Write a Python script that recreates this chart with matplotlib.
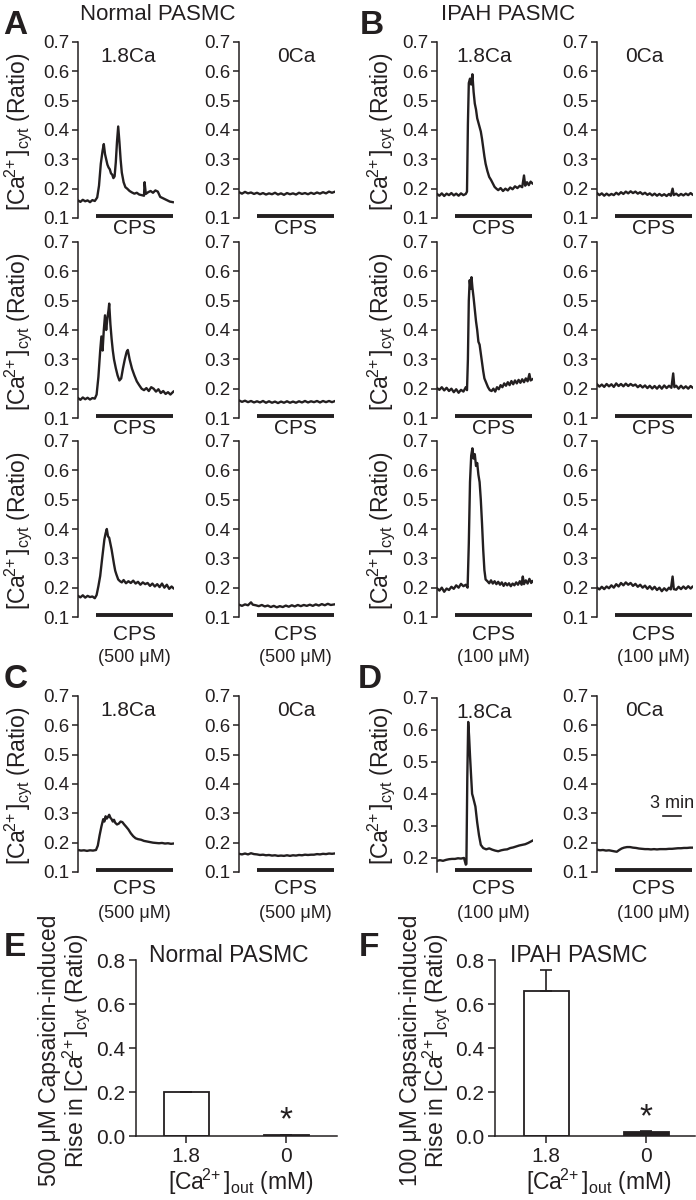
import numpy as np
import matplotlib
matplotlib.use('Agg')
from matplotlib import pyplot as plt
from matplotlib.ticker import FormatStrFormatter

plt.rcParams['font.family'] = ['Liberation Sans', 'DejaVu Sans']
plt.rcParams['mathtext.fontset'] = 'custom'
plt.rcParams['mathtext.rm'] = 'Liberation Sans'
plt.rcParams['mathtext.it'] = 'Liberation Sans:italic'
plt.rcParams['mathtext.bf'] = 'Liberation Sans:bold'

INK = '#231f20'

# ---- traces, (time in min, fura-2 ratio) ----
a1_18 = [(0, 0.160), (0.4, 0.155), (0.8, 0.162), (1.2, 0.157), (1.6, 0.160), (2.0, 0.154), (2.4, 0.161),
         (2.8, 0.158), (3.2, 0.170), (3.5, 0.210), (3.8, 0.285), (4.1, 0.330), (4.3, 0.352), (4.5, 0.318),
         (4.7, 0.300), (4.9, 0.282), (5.1, 0.272), (5.3, 0.266), (5.5, 0.252), (5.7, 0.248), (5.9, 0.236),
         (6.1, 0.242), (6.3, 0.290), (6.5, 0.360), (6.7, 0.412), (6.9, 0.360), (7.1, 0.300), (7.3, 0.255),
         (7.6, 0.222), (7.9, 0.205), (8.2, 0.200), (8.6, 0.192), (9.0, 0.187), (9.4, 0.183), (9.8, 0.186),
         (10.2, 0.180), (10.6, 0.178), (11.0, 0.176), (11.1, 0.222), (11.3, 0.182), (11.7, 0.188),
         (12.1, 0.192), (12.5, 0.186), (12.9, 0.194), (13.3, 0.190), (13.7, 0.172), (14.1, 0.168),
         (14.5, 0.164), (14.9, 0.160), (15.3, 0.156), (15.8, 0.154)]
a1_0 = [(0, 0.188), (0.5, 0.183), (1, 0.189), (1.5, 0.184), (2, 0.187), (2.5, 0.182), (3, 0.186), (3.5, 0.181),
        (4, 0.185), (4.5, 0.180), (5, 0.184), (5.5, 0.181), (6, 0.186), (6.5, 0.180), (7, 0.184), (7.5, 0.179),
        (8, 0.185), (8.5, 0.181), (9, 0.184), (9.5, 0.180), (10, 0.186), (10.5, 0.182), (11, 0.185),
        (11.5, 0.181), (12, 0.186), (12.5, 0.182), (13, 0.187), (13.5, 0.183), (14, 0.188), (14.5, 0.184),
        (15, 0.190), (15.5, 0.186), (15.9, 0.189)]
a2_18 = [(0, 0.168), (0.4, 0.162), (0.8, 0.170), (1.2, 0.164), (1.6, 0.169), (2.0, 0.163), (2.4, 0.168),
         (2.8, 0.166), (3.1, 0.180), (3.4, 0.240), (3.7, 0.330), (3.9, 0.378), (4.1, 0.330), (4.3, 0.400),
         (4.5, 0.450), (4.7, 0.400), (4.9, 0.440), (5.1, 0.470), (5.2, 0.490), (5.4, 0.420), (5.6, 0.370),
         (5.8, 0.330), (6.0, 0.300), (6.3, 0.270), (6.6, 0.245), (6.9, 0.228), (7.2, 0.235), (7.5, 0.270),
         (7.8, 0.300), (8.1, 0.325), (8.3, 0.332), (8.6, 0.300), (9.0, 0.268), (9.4, 0.245), (9.8, 0.225),
         (10.2, 0.212), (10.6, 0.200), (11.0, 0.195), (11.4, 0.202), (11.8, 0.192), (12.2, 0.205),
         (12.6, 0.200), (13.0, 0.190), (13.4, 0.198), (13.8, 0.185), (14.2, 0.192), (14.6, 0.182),
         (15.0, 0.188), (15.4, 0.180), (15.9, 0.190)]
a2_0 = [(0, 0.160), (0.5, 0.155), (1, 0.159), (1.5, 0.154), (2, 0.158), (2.5, 0.153), (3, 0.157), (3.5, 0.153),
        (4, 0.158), (4.5, 0.152), (5, 0.157), (5.5, 0.152), (6, 0.156), (6.5, 0.151), (7, 0.156), (7.5, 0.152),
        (8, 0.157), (8.5, 0.152), (9, 0.156), (9.5, 0.152), (10, 0.157), (10.5, 0.153), (11, 0.158),
        (11.5, 0.153), (12, 0.157), (12.5, 0.154), (13, 0.158), (13.5, 0.153), (14, 0.158), (14.5, 0.154),
        (15, 0.158), (15.5, 0.154), (15.9, 0.157)]
a3_18 = [(0, 0.172), (0.4, 0.167), (0.8, 0.174), (1.2, 0.166), (1.6, 0.172), (2.0, 0.168), (2.4, 0.170),
         (2.8, 0.164), (3.1, 0.175), (3.4, 0.205), (3.7, 0.240), (4.0, 0.295), (4.2, 0.330), (4.4, 0.365),
         (4.6, 0.385), (4.8, 0.400), (5.0, 0.375), (5.2, 0.370), (5.4, 0.350), (5.6, 0.330), (5.8, 0.305),
         (6.0, 0.280), (6.2, 0.258), (6.4, 0.245), (6.7, 0.228), (7.0, 0.222), (7.3, 0.218), (7.6, 0.226),
         (8.0, 0.215), (8.4, 0.222), (8.8, 0.216), (9.2, 0.224), (9.6, 0.214), (10.0, 0.220), (10.4, 0.210),
         (10.8, 0.218), (11.2, 0.212), (11.6, 0.216), (12.0, 0.206), (12.4, 0.214), (12.8, 0.204),
         (13.2, 0.212), (13.6, 0.202), (14.0, 0.214), (14.4, 0.200), (14.8, 0.210), (15.2, 0.196),
         (15.6, 0.204), (15.9, 0.198)]
a3_0 = [(0, 0.142), (0.5, 0.138), (1, 0.143), (1.5, 0.140), (2, 0.150), (2.3, 0.142), (2.8, 0.140), (3.3, 0.137),
        (3.8, 0.141), (4.3, 0.136), (4.8, 0.139), (5.3, 0.134), (5.8, 0.138), (6.3, 0.133), (6.8, 0.137),
        (7.3, 0.134), (7.8, 0.139), (8.3, 0.135), (8.8, 0.140), (9.3, 0.136), (9.8, 0.141), (10.3, 0.137),
        (10.8, 0.141), (11.3, 0.138), (11.8, 0.142), (12.3, 0.138), (12.8, 0.143), (13.3, 0.139),
        (13.8, 0.144), (14.3, 0.140), (14.8, 0.145), (15.3, 0.141), (15.9, 0.143)]

b1_18 = [(0, 0.182), (0.4, 0.176), (0.8, 0.184), (1.2, 0.175), (1.6, 0.183), (2.0, 0.178), (2.4, 0.185),
         (2.8, 0.177), (3.2, 0.183), (3.6, 0.176), (4.0, 0.184), (4.4, 0.178), (4.8, 0.182), (5.0, 0.190),
         (5.15, 0.420), (5.3, 0.560), (5.5, 0.575), (5.7, 0.555), (5.9, 0.590), (6.1, 0.530), (6.3, 0.490),
         (6.5, 0.470), (6.7, 0.440), (6.9, 0.425), (7.1, 0.410), (7.3, 0.395), (7.5, 0.370), (7.7, 0.340),
         (7.9, 0.310), (8.1, 0.285), (8.4, 0.260), (8.7, 0.240), (9.0, 0.230), (9.3, 0.218), (9.6, 0.206),
         (9.9, 0.200), (10.2, 0.195), (10.6, 0.202), (11.0, 0.192), (11.4, 0.200), (11.8, 0.194),
         (12.2, 0.204), (12.6, 0.198), (13.0, 0.208), (13.4, 0.202), (13.8, 0.210), (14.2, 0.205),
         (14.5, 0.245), (14.7, 0.210), (15.0, 0.222), (15.3, 0.212), (15.6, 0.224), (15.9, 0.218)]
b1_0 = [(0, 0.185), (0.4, 0.178), (0.8, 0.184), (1.2, 0.176), (1.6, 0.183), (2.0, 0.177), (2.4, 0.182),
        (2.8, 0.178), (3.2, 0.186), (3.6, 0.180), (4.0, 0.188), (4.4, 0.182), (4.8, 0.190), (5.2, 0.184),
        (5.6, 0.191), (6.0, 0.185), (6.4, 0.190), (6.8, 0.183), (7.2, 0.188), (7.6, 0.181), (8.0, 0.186),
        (8.4, 0.179), (8.8, 0.184), (9.2, 0.177), (9.6, 0.183), (10.0, 0.176), (10.4, 0.182), (10.8, 0.176),
        (11.2, 0.181), (11.6, 0.175), (12.0, 0.182), (12.3, 0.176), (12.6, 0.200), (12.8, 0.178),
        (13.2, 0.183), (13.6, 0.176), (14.0, 0.182), (14.4, 0.177), (14.8, 0.183), (15.2, 0.178),
        (15.6, 0.185), (15.9, 0.180)]
b2_18 = [(0, 0.202), (0.4, 0.196), (0.8, 0.205), (1.2, 0.194), (1.6, 0.203), (2.0, 0.192), (2.4, 0.200),
         (2.8, 0.188), (3.2, 0.198), (3.6, 0.186), (4.0, 0.196), (4.4, 0.190), (4.8, 0.205), (5.0, 0.195),
         (5.15, 0.300), (5.3, 0.500), (5.45, 0.570), (5.6, 0.540), (5.75, 0.580), (5.9, 0.545), (6.1, 0.510),
         (6.3, 0.470), (6.5, 0.430), (6.7, 0.400), (6.9, 0.360), (7.1, 0.350), (7.3, 0.320), (7.5, 0.290),
         (7.7, 0.260), (7.9, 0.235), (8.2, 0.220), (8.5, 0.205), (8.8, 0.195), (9.1, 0.192), (9.4, 0.200),
         (9.7, 0.190), (10.0, 0.205), (10.3, 0.198), (10.6, 0.212), (10.9, 0.205), (11.2, 0.218),
         (11.5, 0.210), (11.8, 0.222), (12.1, 0.212), (12.4, 0.226), (12.7, 0.215), (13.0, 0.228),
         (13.3, 0.218), (13.6, 0.230), (13.9, 0.220), (14.2, 0.232), (14.5, 0.222), (14.8, 0.235),
         (15.1, 0.225), (15.4, 0.250), (15.6, 0.228), (15.9, 0.232)]
b2_0 = [(0, 0.215), (0.4, 0.207), (0.8, 0.214), (1.2, 0.206), (1.6, 0.216), (2.0, 0.208), (2.4, 0.215),
        (2.8, 0.206), (3.2, 0.218), (3.6, 0.209), (4.0, 0.216), (4.4, 0.208), (4.8, 0.217), (5.2, 0.209),
        (5.6, 0.216), (6.0, 0.210), (6.4, 0.214), (6.8, 0.205), (7.2, 0.212), (7.6, 0.204), (8.0, 0.211),
        (8.4, 0.202), (8.8, 0.210), (9.2, 0.201), (9.6, 0.209), (10.0, 0.200), (10.4, 0.210), (10.8, 0.200),
        (11.2, 0.211), (11.6, 0.202), (12.0, 0.210), (12.4, 0.203), (12.7, 0.252), (12.9, 0.205),
        (13.2, 0.210), (13.6, 0.200), (14.0, 0.210), (14.4, 0.201), (14.8, 0.208), (15.2, 0.200),
        (15.6, 0.209), (15.9, 0.204)]
b3_18 = [(0, 0.198), (0.4, 0.190), (0.8, 0.200), (1.2, 0.186), (1.6, 0.197), (2.0, 0.192), (2.4, 0.203),
         (2.8, 0.196), (3.2, 0.208), (3.6, 0.200), (4.0, 0.213), (4.4, 0.205), (4.8, 0.210), (5.1, 0.200),
         (5.3, 0.350), (5.5, 0.560), (5.7, 0.650), (5.9, 0.675), (6.1, 0.640), (6.3, 0.655), (6.5, 0.615),
         (6.7, 0.625), (6.9, 0.585), (7.1, 0.560), (7.3, 0.500), (7.5, 0.420), (7.7, 0.330), (7.9, 0.260),
         (8.1, 0.228), (8.4, 0.222), (8.7, 0.215), (9.0, 0.225), (9.3, 0.214), (9.6, 0.222), (9.9, 0.212),
         (10.2, 0.220), (10.5, 0.210), (10.8, 0.218), (11.1, 0.206), (11.4, 0.216), (11.7, 0.208),
         (12.0, 0.215), (12.3, 0.205), (12.6, 0.214), (12.9, 0.208), (13.2, 0.218), (13.5, 0.210),
         (13.8, 0.222), (14.1, 0.210), (14.3, 0.238), (14.5, 0.212), (14.8, 0.225), (15.1, 0.214),
         (15.4, 0.230), (15.7, 0.216), (15.9, 0.222)]
b3_0 = [(0, 0.200), (0.4, 0.194), (0.8, 0.203), (1.2, 0.195), (1.6, 0.204), (2.0, 0.198), (2.4, 0.208),
        (2.8, 0.200), (3.2, 0.212), (3.6, 0.204), (4.0, 0.216), (4.4, 0.208), (4.8, 0.218), (5.2, 0.210),
        (5.6, 0.216), (6.0, 0.206), (6.4, 0.213), (6.8, 0.203), (7.2, 0.210), (7.6, 0.200), (8.0, 0.207),
        (8.4, 0.196), (8.8, 0.205), (9.2, 0.194), (9.6, 0.203), (10.0, 0.192), (10.4, 0.200), (10.8, 0.188),
        (11.2, 0.198), (11.6, 0.190), (12.0, 0.200), (12.3, 0.194), (12.6, 0.238), (12.8, 0.195),
        (13.2, 0.193), (13.6, 0.203), (14.0, 0.195), (14.4, 0.204), (14.8, 0.196), (15.2, 0.205),
        (15.6, 0.197), (15.9, 0.203)]

c_18 = [(0, 0.175), (0.5, 0.173), (1, 0.174), (1.5, 0.172), (2, 0.174), (2.5, 0.173), (3, 0.175), (3.3, 0.190),
        (3.6, 0.225), (3.9, 0.255), (4.2, 0.280), (4.4, 0.272), (4.6, 0.290), (4.8, 0.282), (5.0, 0.288),
        (5.2, 0.295), (5.4, 0.285), (5.6, 0.280), (5.8, 0.272), (6.0, 0.278), (6.2, 0.268), (6.5, 0.262),
        (6.8, 0.265), (7.1, 0.272), (7.4, 0.270), (7.7, 0.262), (8.0, 0.255), (8.4, 0.245), (8.8, 0.232),
        (9.2, 0.222), (9.6, 0.215), (10.0, 0.212), (10.5, 0.210), (11.0, 0.206), (11.5, 0.204),
        (12.0, 0.202), (12.5, 0.200), (13, 0.199), (13.5, 0.198), (14, 0.199), (14.5, 0.197), (15, 0.198),
        (15.5, 0.196), (15.9, 0.197)]
c_0 = [(0, 0.162), (0.5, 0.160), (1, 0.163), (1.5, 0.160), (2, 0.164), (2.5, 0.161), (3, 0.160), (3.5, 0.158),
       (4, 0.159), (4.5, 0.157), (5, 0.158), (5.5, 0.156), (6, 0.157), (6.5, 0.155), (7, 0.156), (7.5, 0.155),
       (8, 0.157), (8.5, 0.155), (9, 0.157), (9.5, 0.156), (10, 0.158), (10.5, 0.157), (11, 0.159),
       (11.5, 0.158), (12, 0.159), (12.5, 0.159), (13, 0.161), (13.5, 0.160), (14, 0.162), (14.5, 0.161),
       (15, 0.163), (15.5, 0.162), (15.9, 0.163)]
d_18 = [(0, 0.190), (0.5, 0.192), (1, 0.190), (1.5, 0.193), (2, 0.195), (2.5, 0.196), (3, 0.196), (3.5, 0.198),
        (4, 0.197), (4.5, 0.199), (4.8, 0.178), (4.9, 0.180), (5.05, 0.450), (5.2, 0.625), (5.35, 0.580),
        (5.5, 0.520), (5.7, 0.450), (5.85, 0.400), (6.0, 0.390), (6.4, 0.360), (6.7, 0.310), (7.0, 0.270),
        (7.3, 0.240), (7.7, 0.230), (8.2, 0.226), (8.7, 0.229), (9.2, 0.225), (9.7, 0.222), (10.2, 0.220),
        (10.7, 0.223), (11.2, 0.225), (11.7, 0.226), (12.2, 0.230), (12.7, 0.232), (13.2, 0.235),
        (13.7, 0.238), (14.2, 0.240), (14.7, 0.242), (15.2, 0.246), (15.6, 0.250), (15.9, 0.253)]
d_0 = [(0, 0.176), (0.5, 0.174), (1, 0.175), (1.5, 0.173), (2, 0.174), (2.5, 0.172), (3, 0.170), (3.3, 0.169),
       (3.7, 0.175), (4.1, 0.180), (4.5, 0.183), (5, 0.185), (5.5, 0.185), (6, 0.183), (6.5, 0.182),
       (7, 0.180), (7.5, 0.179), (8, 0.178), (8.5, 0.178), (9, 0.177), (9.5, 0.178), (10, 0.177),
       (10.5, 0.178), (11, 0.178), (11.5, 0.178), (12, 0.179), (12.5, 0.179), (13, 0.180), (13.5, 0.181),
       (14, 0.181), (14.5, 0.182), (15, 0.182), (15.5, 0.183), (15.9, 0.183)]

cps_on, cps_off = 3.0, 15.8   # min, capsaicin application

# summary bars
bar_labels = ['1.8', '0']
e_means = [0.20, 0.003]
e_sem = [0.002, 0.0]
f_means = [0.66, 0.02]
f_sem = [0.095, 0.005]

W, H = 696, 1200
fig = plt.figure(figsize=(W / 100, H / 100), dpi=100)


def box(x0, y0, x1, y1):
    return fig.add_axes([x0 / W, 1 - y1 / H, (x1 - x0) / W, (y1 - y0) / H])


def ftext(x, y, s, **kw):
    kw.setdefault('ha', 'center')
    kw.setdefault('va', 'center')
    kw.setdefault('color', INK)
    fig.text(x / W, 1 - y / H, s, **kw)


ca_cyt = r'[Ca$^{\!2\!+}$]$_{\mathrm{cyt}}$ (Ratio)'
ca_out = r'[Ca$^{\!2\!+}$]$_{\mathrm{out}}$ (mM)'


def trace_panel(x0, y0, y1, trace, top_label=None, label_x=None, conc=None,
                ylim=(0.1, 0.7), yticks=(0.1, 0.2, 0.3, 0.4, 0.5, 0.6, 0.7), cps_dy=11):
    ax = box(x0, y0, x0 + 96, y1)
    t, v = np.array(trace).T
    ax.plot(t, v, color=INK, lw=1.7, solid_joinstyle='round')
    ax.set_xlim(0, 16)
    ax.set_ylim(*ylim)
    ax.set_yticks(yticks)
    ax.yaxis.set_major_formatter(FormatStrFormatter('%.1f'))
    ax.set_xticks([])
    for s in ['top', 'right', 'bottom']:
        ax.spines[s].set_visible(False)
    ax.spines['left'].set_linewidth(1.1)
    ax.spines['left'].set_color(INK)
    ax.tick_params(axis='y', direction='out', length=4, width=1.1, labelsize=13.5, pad=2,
                   colors=INK)
    ax.plot([cps_on, cps_off], [0.01, 0.01], transform=ax.get_xaxis_transform(),
            color=INK, lw=2.8, solid_capstyle='butt', clip_on=False)
    xm = x0 + 6 * (cps_on + cps_off) / 2
    ftext(xm, y1 + cps_dy, 'CPS', fontsize=15)
    if conc:
        ftext(xm, y1 + cps_dy + 24, conc, fontsize=13)
    if top_label:
        ftext(label_x, y0 + 15, top_label, fontsize=15)
    return ax


rows = [(42, 218), (242, 418), (441, 617)]
normal = [(a1_18, a1_0), (a2_18, a2_0), (a3_18, a3_0)]
ipah = [(b1_18, b1_0), (b2_18, b2_0), (b3_18, b3_0)]

for i, (y0, y1) in enumerate(rows):
    top = i == 0
    last = i == 2
    dy = 17 if last else 11
    trace_panel(78, y0, y1, normal[i][0], '1.8Ca' if top else None, 128,
                '(500 μM)' if last else None, cps_dy=dy)
    trace_panel(239, y0, y1, normal[i][1], '0Ca' if top else None, 296,
                '(500 μM)' if last else None, cps_dy=dy)
    trace_panel(437, y0, y1, ipah[i][0], '1.8Ca' if top else None, 484,
                '(100 μM)' if last else None, cps_dy=dy)
    trace_panel(597, y0, y1, ipah[i][1], '0Ca' if top else None, 644,
                '(100 μM)' if last else None, cps_dy=dy)
    ftext(18, (y0 + y1) / 2 + 2, ca_cyt, fontsize=16.5, rotation=90)
    ftext(381, (y0 + y1) / 2 + 2, ca_cyt, fontsize=16.5, rotation=90)

# C and D
trace_panel(78, 696, 872, c_18, '1.8Ca', 128, '(500 μM)', cps_dy=17)
trace_panel(239, 696, 872, c_0, '0Ca', 296, '(500 μM)', cps_dy=17)
trace_panel(437, 698, 872, d_18, '1.8Ca', 484, '(100 μM)', ylim=(0.155, 0.7),
            yticks=(0.2, 0.3, 0.4, 0.5, 0.6, 0.7), cps_dy=17)
axd = trace_panel(597, 696, 872, d_0, '0Ca', 644, '(100 μM)', cps_dy=17)
axd.plot([11, 14], [0.29, 0.29], color=INK, lw=1.2)
axd.text(12.5, 0.305, '3 min', ha='center', va='bottom', fontsize=13, color=INK)
ftext(18, 786, ca_cyt, fontsize=16.5, rotation=90)
ftext(381, 786, ca_cyt, fontsize=16.5, rotation=90)

# headers and panel letters
ftext(158, 14, 'Normal PASMC', fontsize=16)
ftext(508, 14, 'IPAH PASMC', fontsize=16)
for letter, x, y in [('A', 15, 25), ('B', 372, 25), ('C', 16, 680), ('D', 370, 680),
                     ('E', 15, 948), ('F', 369, 948)]:
    ftext(x, y, letter, fontsize=24, fontweight='bold')


def bar_panel(x0, x1, means, sem, xlim, title, title_x, conc, lab_x, star_y):
    ax = box(x0, 960, x1, 1136)
    pos = np.arange(len(means))
    ax.bar(pos, means, width=0.45, color=['white', INK], edgecolor=INK, linewidth=1.3)
    ax.errorbar(pos, means, yerr=[np.zeros(len(sem)), sem], fmt='none', ecolor=INK,
                elinewidth=1.2, capsize=4, capthick=1.2)
    ax.set_xlim(*xlim)
    ax.set_ylim(0, 0.8)
    ax.set_yticks([0.0, 0.2, 0.4, 0.6, 0.8])
    ax.yaxis.set_major_formatter(FormatStrFormatter('%.1f'))
    ax.set_xticks(pos)
    ax.set_xticklabels(bar_labels)
    for s in ['top', 'right']:
        ax.spines[s].set_visible(False)
    for s in ['left', 'bottom']:
        ax.spines[s].set_linewidth(1.1)
        ax.spines[s].set_color(INK)
    ax.tick_params(direction='out', length=5, width=1.1, labelsize=15, colors=INK, pad=3)
    ax.text(1, star_y, '*', ha='center', va='center', fontsize=24, color=INK)
    ftext(title_x, 956, title, fontsize=16.5)
    ftext((x0 + x1) / 2 + 4, 1182, ca_out, fontsize=16.5)
    ftext(lab_x, 1050, conc + ' Capsaicin-induced', fontsize=16.5, rotation=90)
    ftext(lab_x + 26, 1050, 'Rise in ' + ca_cyt, fontsize=16.5, rotation=90)


bar_panel(136, 337, e_means, e_sem, (-0.5, 1.51), 'Normal PASMC', 229, '500 μM', 50, 0.07)
bar_panel(495, 695, f_means, f_sem, (-0.51, 1.49), 'IPAH PASMC', 579, '100 μM', 410, 0.085)

fig.savefig('out.png', dpi=100)
